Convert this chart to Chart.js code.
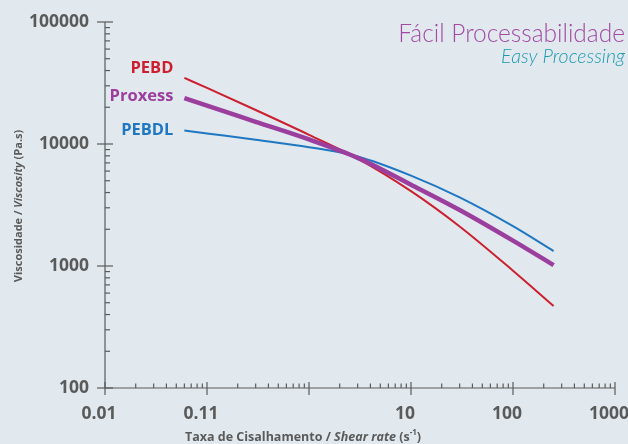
<!DOCTYPE html>
<html>
<head>
<meta charset="utf-8">
<script src="https://cdn.jsdelivr.net/npm/chart.js@4/dist/chart.umd.min.js"></script>
<style>
  html, body { margin: 0; padding: 0; background: #e1e9ee; }
  #wrap { width: 628px; height: 444px; }
</style>
</head>
<body>
<div id="wrap"><canvas id="chart"></canvas></div>
<script>
// values (log-log)
const shearRates = [0.06, 0.1, 0.3, 1, 3, 10, 30, 100, 250];
const pebd    = [34800, 28800, 19000, 11900, 7600, 4110, 2110, 915, 470];
const proxess = [23800, 20600, 15200, 10900, 7700, 4640, 2880, 1614, 1016];
const pebdl   = [12900, 12200, 10840, 9420, 7900, 5510, 3650, 2120, 1325];
const seriesNames = ['PEBD', 'Proxess', 'PEBDL'];

const xTickValues = [0.01, 0.1, 1, 10, 100, 1000];
const xTickLabels = ['0.01', '0.11', '', '10', '100', '1000'];
const yTickValues = [100, 1000, 10000, 100000];
const yTickLabels = ['100', '1000', '10000', '100000'];

const GRAY = '#5a5a5a';
const RED = '#cc1f30';
const PURPLE = '#9b3e9e';
const BLUE = '#1f77c2';
const FONT = '"Open Sans", "Noto Sans", sans-serif';
const THIN = 'Lato, "Open Sans", sans-serif';

function toPoints(ys) {
  return shearRates.map((x, i) => ({ x: x, y: ys[i] }));
}

// draws a line of text made of several font runs
function drawRuns(ctx, runs, x, y, align) {
  let total = 0;
  runs.forEach(r => { ctx.font = r.font; total += ctx.measureText(r.text).width; });
  let cx = align === 'center' ? x - total / 2 : x;
  ctx.textAlign = 'left';
  runs.forEach(r => {
    ctx.font = r.font;
    ctx.fillText(r.text, cx, y + (r.dy || 0));
    cx += ctx.measureText(r.text).width;
  });
}

const axesPlugin = {
  id: 'axesPlugin',
  afterDraw(chart) {
    const { ctx, chartArea: a, scales: { x, y } } = chart;
    ctx.save();
    ctx.strokeStyle = GRAY;
    ctx.fillStyle = GRAY;
    ctx.lineWidth = 1.2;

    const seg = (x1, y1, x2, y2) => {
      ctx.beginPath(); ctx.moveTo(x1, y1); ctx.lineTo(x2, y2); ctx.stroke();
    };

    seg(a.left, a.top, a.left, a.bottom);
    seg(a.left, a.bottom, a.right, a.bottom);

    // x ticks
    for (let e = -2; e <= 3; e++) {
      for (let m = 1; m <= 9; m++) {
        const v = m * Math.pow(10, e);
        if (v > 1000.0001) break;
        const px = x.getPixelForValue(v);
        if (m === 1) seg(px, a.bottom - 6, px, a.bottom + 7);
        else seg(px, a.bottom - 4.5, px, a.bottom);
      }
    }
    // y ticks
    for (let e = 2; e <= 5; e++) {
      for (let m = 1; m <= 9; m++) {
        const v = m * Math.pow(10, e);
        if (v > 100000.01) break;
        const py = y.getPixelForValue(v);
        if (m === 1) seg(a.left - 8, py, a.left + 8, py);
        else seg(a.left, py, a.left + 5, py);
      }
    }

    // tick labels
    ctx.font = 'bold 17.5px ' + FONT;
    ctx.textBaseline = 'middle';
    ctx.textAlign = 'center';
    xTickValues.forEach((v, i) => {
      ctx.fillText(xTickLabels[i], x.getPixelForValue(v) - 6, a.bottom + 26);
    });
    ctx.textAlign = 'right';
    yTickValues.forEach((v, i) => {
      ctx.fillText(yTickLabels[i], a.left - 16, y.getPixelForValue(v));
    });

    // axis titles
    ctx.textBaseline = 'middle';
    drawRuns(ctx, [
      { text: 'Taxa de Cisalhamento / ', font: 'bold 12.5px ' + FONT },
      { text: 'Shear rate', font: 'italic bold 12.5px ' + FONT },
      { text: ' (s', font: 'bold 12.5px ' + FONT },
      { text: '-1', font: 'bold 8px ' + FONT, dy: -4 },
      { text: ')', font: 'bold 12.5px ' + FONT }
    ], 303, 437, 'center');

    ctx.save();
    ctx.translate(19, 206);
    ctx.rotate(-Math.PI / 2);
    drawRuns(ctx, [
      { text: 'Viscosidade / ', font: 'bold 11px ' + FONT },
      { text: 'Viscosity', font: 'italic bold 11px ' + FONT },
      { text: ' (Pa.s)', font: 'bold 11px ' + FONT }
    ], 0, 0, 'center');
    ctx.restore();

    // series labels next to the first point of each line
    const labelDy = [-10, -2, 0];
    ctx.font = 'bold 16.5px ' + FONT;
    ctx.textAlign = 'right';
    chart.data.datasets.forEach((ds, i) => {
      const p = chart.getDatasetMeta(i).data[0];
      ctx.fillStyle = ds.borderColor;
      ctx.fillText(seriesNames[i], p.x - 11, p.y + labelDy[i]);
    });

    // heading
    ctx.textAlign = 'right';
    ctx.textBaseline = 'alphabetic';
    ctx.fillStyle = '#a34ba4';
    ctx.font = '300 24.5px ' + THIN;
    ctx.fillText('Fácil Processabilidade', 625, 42);
    ctx.fillStyle = '#1b9ab0';
    ctx.font = 'italic 300 19.5px ' + THIN;
    ctx.fillText('Easy Processing', 625, 63);

    ctx.restore();
  }
};

const ctx = document.getElementById('chart').getContext('2d');
new Chart(ctx, {
  type: 'line',
  data: {
    datasets: [
      { label: seriesNames[0], data: toPoints(pebd), borderColor: RED, borderWidth: 2, order: 2 },
      { label: seriesNames[1], data: toPoints(proxess), borderColor: PURPLE, borderWidth: 4.5, order: 1 },
      { label: seriesNames[2], data: toPoints(pebdl), borderColor: BLUE, borderWidth: 2, order: 3 }
    ]
  },
  options: {
    responsive: true,
    maintainAspectRatio: false,
    animation: false,
    layout: { padding: { top: 22, right: 13, left: 0, bottom: 0 } },
    elements: {
      point: { radius: 0 },
      line: { cubicInterpolationMode: 'monotone', fill: false }
    },
    plugins: { legend: { display: false }, tooltip: { enabled: false } },
    scales: {
      x: {
        type: 'logarithmic', min: 0.01, max: 1000,
        grid: { display: false }, border: { display: false },
        ticks: { display: false },
        afterFit: s => { s.height = 56; }
      },
      y: {
        type: 'logarithmic', min: 100, max: 100000,
        grid: { display: false }, border: { display: false },
        ticks: { display: false },
        afterFit: s => { s.width = 105; }
      }
    }
  },
  plugins: [axesPlugin]
});
</script>
</body>
</html>
